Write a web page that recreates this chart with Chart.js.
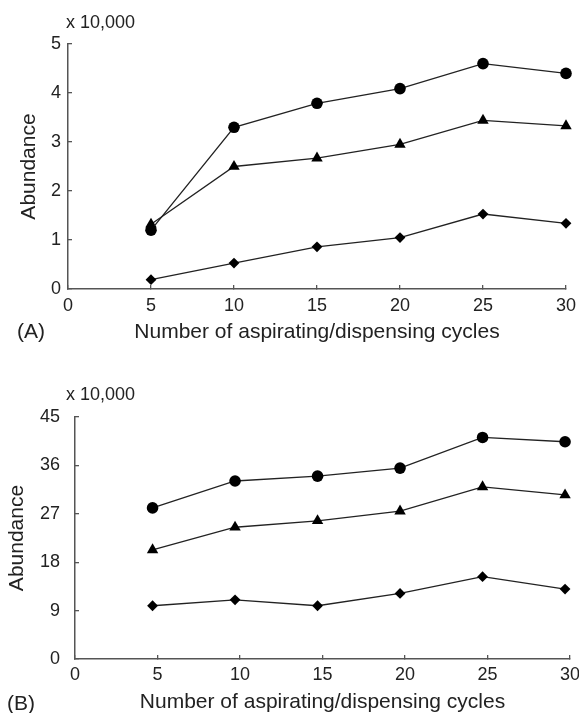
<!DOCTYPE html>
<html>
<head>
<meta charset="utf-8">
<script src="https://cdn.jsdelivr.net/npm/chart.js@4/dist/chart.umd.min.js"></script>
<style>
  body { margin: 0; background: #fff; width: 579px; height: 713px; overflow: hidden; position: relative; font-family: "Liberation Sans", Arial, sans-serif; color: #222; }
  .box { position: absolute; left: 0; width: 579px; }
  .note { position: absolute; white-space: nowrap; line-height: 1; }
  .mult { font-size: 18px; }
  .panel { font-size: 21px; }
</style>
</head>
<body>
<div class="box" style="top:0;height:345px"><canvas id="chartA"></canvas></div>
<div class="box" style="top:345px;height:368px"><canvas id="chartB"></canvas></div>
<div class="note mult" style="left:66px;top:13px">x 10,000</div>
<div class="note panel" style="left:17px;top:320px">(A)</div>
<div class="note mult" style="left:66px;top:385px">x 10,000</div>
<div class="note panel" style="left:7px;top:692px">(B)</div>
<script>
// cycles as plotted in each panel
const cyclesA = [5, 10, 15, 20, 25, 30];
const cyclesB = [4.7, 9.7, 14.7, 19.7, 24.7, 29.7];

// panel A values (x 10,000)
const circlesA = [1.2, 3.3, 3.79, 4.09, 4.6, 4.4];
const trianglesA = [1.32, 2.5, 2.67, 2.95, 3.44, 3.33];
const diamondsA = [0.19, 0.53, 0.86, 1.05, 1.53, 1.34];

// panel B values (x 10,000)
const circlesB = [28.1, 33.1, 34.0, 35.5, 41.2, 40.4];
const trianglesB = [20.3, 24.5, 25.7, 27.5, 32.0, 30.5];
const diamondsB = [9.9, 11.0, 9.9, 12.2, 15.3, 13.0];

const FONT = '"Liberation Sans", Arial, sans-serif';
const AXIS = '#555';
const INK = '#222';

function series(xs, ys, style, radius) {
  return {
    data: xs.map((x, i) => ({ x: x, y: ys[i] })),
    borderColor: INK,
    borderWidth: 1.3,
    pointStyle: style,
    pointRadius: radius,
    pointBackgroundColor: '#000',
    pointBorderColor: '#000',
    pointBorderWidth: 0,
    fill: false,
    tension: 0,
    clip: false
  };
}

function makeChart(id, cfg) {
  const ctx = document.getElementById(id).getContext('2d');
  return new Chart(ctx, {
    type: 'line',
    data: {
      datasets: [
        series(cfg.xs, cfg.circles, 'circle', 5.8),
        series(cfg.xs, cfg.triangles, 'triangle', 6.6),
        series(cfg.xs, cfg.diamonds, 'rectRot', 5.4)
      ]
    },
    options: {
      responsive: true,
      maintainAspectRatio: false,
      animation: false,
      layout: { padding: { top: cfg.top, right: cfg.right, left: 0, bottom: 0 } },
      plugins: { legend: { display: false }, tooltip: { enabled: false } },
      scales: {
        x: {
          type: 'linear',
          min: 0,
          max: 30,
          ticks: { stepSize: 5, color: INK, padding: cfg.xPad, font: { family: FONT, size: 18 } },
          grid: { drawOnChartArea: false, drawTicks: true, tickLength: -4, color: AXIS, lineWidth: 1.3 },
          border: { display: true, color: AXIS, width: 1.5 },
          title: {
            display: true,
            text: 'Number of aspirating/dispensing cycles',
            color: INK,
            font: { family: FONT, size: 21 },
            padding: { top: 0, bottom: cfg.xTitlePad }
          },
          afterFit: s => { s.height = cfg.xHeight; s.paddingLeft = 0; s.paddingRight = 0; }
        },
        y: {
          min: 0,
          max: cfg.yMax,
          ticks: { stepSize: cfg.yStep, color: INK, padding: cfg.yPad, font: { family: FONT, size: 18 } },
          grid: { drawOnChartArea: false, drawTicks: true, tickLength: -4, color: AXIS, lineWidth: 1.3 },
          border: { display: true, color: AXIS, width: 1.5 },
          title: {
            display: true,
            text: 'Abundance',
            color: INK,
            font: { family: FONT, size: 21 },
            padding: { top: cfg.yTitlePad, bottom: 0 }
          },
          afterFit: s => { s.width = cfg.yWidth; s.paddingTop = 0; s.paddingBottom = 0; }
        }
      }
    }
  });
}

makeChart('chartA', {
  xs: cyclesA, circles: circlesA, triangles: trianglesA, diamonds: diamondsA,
  yMax: 5, yStep: 1,
  top: 44, right: 13, xHeight: 56, yWidth: 68,
  xPad: 10, yPad: 11, xTitlePad: 0, yTitlePad: 17
});

makeChart('chartB', {
  xs: cyclesB, circles: circlesB, triangles: trianglesB, diamonds: diamondsB,
  yMax: 45, yStep: 9,
  top: 72, right: 9, xHeight: 54, yWidth: 75,
  xPad: 9, yPad: 19, xTitlePad: -2, yTitlePad: 5
});
</script>
</body>
</html>
